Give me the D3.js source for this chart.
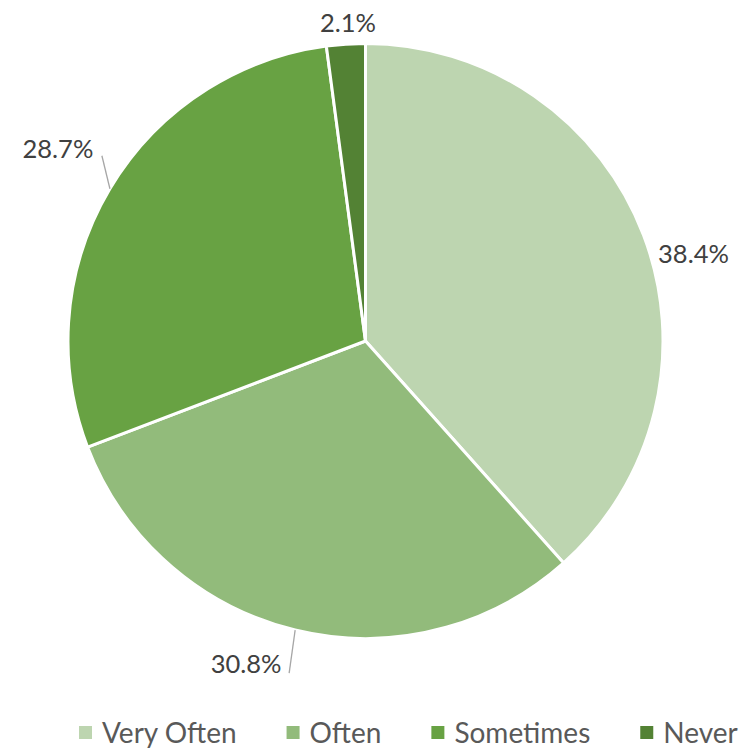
<!DOCTYPE html>
<html lang="en">
<head>
    <meta charset="UTF-8">
    <title>Pie</title>
    <style>
        body { margin: 0; background: #fff; }
        text { font-family: Lato, "Open Sans", sans-serif; }
    </style>
</head>
<body>
    <div id="target"></div>

    <script src="https://d3js.org/d3.v7.min.js"></script>
    <script>
        // data
        const categories = ["Very Often", "Often", "Sometimes", "Never"];
        const values = [38.4, 30.8, 28.7, 2.1];
        const colors = ["#BDD5B0", "#92BB7B", "#68A243", "#538234"];

        // label placement, relative to the slice's outer edge point
        const labelNudge = [[50, 18], [-49, 33], [-52, -41], [2, -22]];
        const hasLeader = [false, true, true, false];
        const leaderEnd = [null, [-6, 43], [-8, -33], null];

        const width = 751, height = 751;
        const cx = 365.5, cy = 341, radius = 297.5;

        const svg = d3.select("#target").append("svg")
            .attr("width", width)
            .attr("height", height);

        const data = categories.map((c, i) => ({ cat: c, value: values[i], i: i }));

        const pie = d3.pie().value(d => d.value).sort(null);
        const arc = d3.arc().innerRadius(0).outerRadius(radius);
        const arcs = pie(data);

        const g = svg.append("g").attr("transform", `translate(${cx},${cy})`);

        g.selectAll("path")
            .data(arcs)
            .join("path")
            .attr("d", arc)
            .attr("fill", d => colors[d.data.i])
            .attr("stroke", "#fff")
            .attr("stroke-width", 3)
            .attr("stroke-linejoin", "round");

        function edgePoint(d) {
            const a = (d.startAngle + d.endAngle) / 2;
            return [radius * Math.sin(a), -radius * Math.cos(a)];
        }

        // leader lines
        g.selectAll("line.leader")
            .data(arcs.filter(d => hasLeader[d.data.i]))
            .join("line")
            .attr("class", "leader")
            .attr("x1", d => edgePoint(d)[0])
            .attr("y1", d => edgePoint(d)[1])
            .attr("x2", d => edgePoint(d)[0] + leaderEnd[d.data.i][0])
            .attr("y2", d => edgePoint(d)[1] + leaderEnd[d.data.i][1])
            .attr("stroke", "#a6a6a6")
            .attr("stroke-width", 1.3);

        const fmt = d3.format(".1f");
        g.selectAll("text.lbl")
            .data(arcs)
            .join("text")
            .attr("class", "lbl")
            .attr("x", d => edgePoint(d)[0] + labelNudge[d.data.i][0])
            .attr("y", d => edgePoint(d)[1] + labelNudge[d.data.i][1])
            .attr("text-anchor", "middle")
            .attr("dominant-baseline", "central")
            .attr("fill", "#404040")
            .style("font-size", "25.5px")
            .text(d => fmt(d.data.value) + "%");

        // legend
        const legend = svg.append("g").attr("transform", "translate(79,732)");
        let x = 0;
        categories.forEach((c, i) => {
            const item = legend.append("g").attr("transform", `translate(${x},0)`);
            item.append("rect")
                .attr("x", 0).attr("y", -6)
                .attr("width", 13).attr("height", 13)
                .attr("fill", colors[i]);
            const t = item.append("text")
                .attr("x", 23).attr("y", 0)
                .attr("dominant-baseline", "central")
                .attr("fill", "#595959")
                .style("font-size", "28px")
                .text(c);
            x += 23 + t.node().getComputedTextLength() + 50;
        });
    </script>
</body>
</html>
